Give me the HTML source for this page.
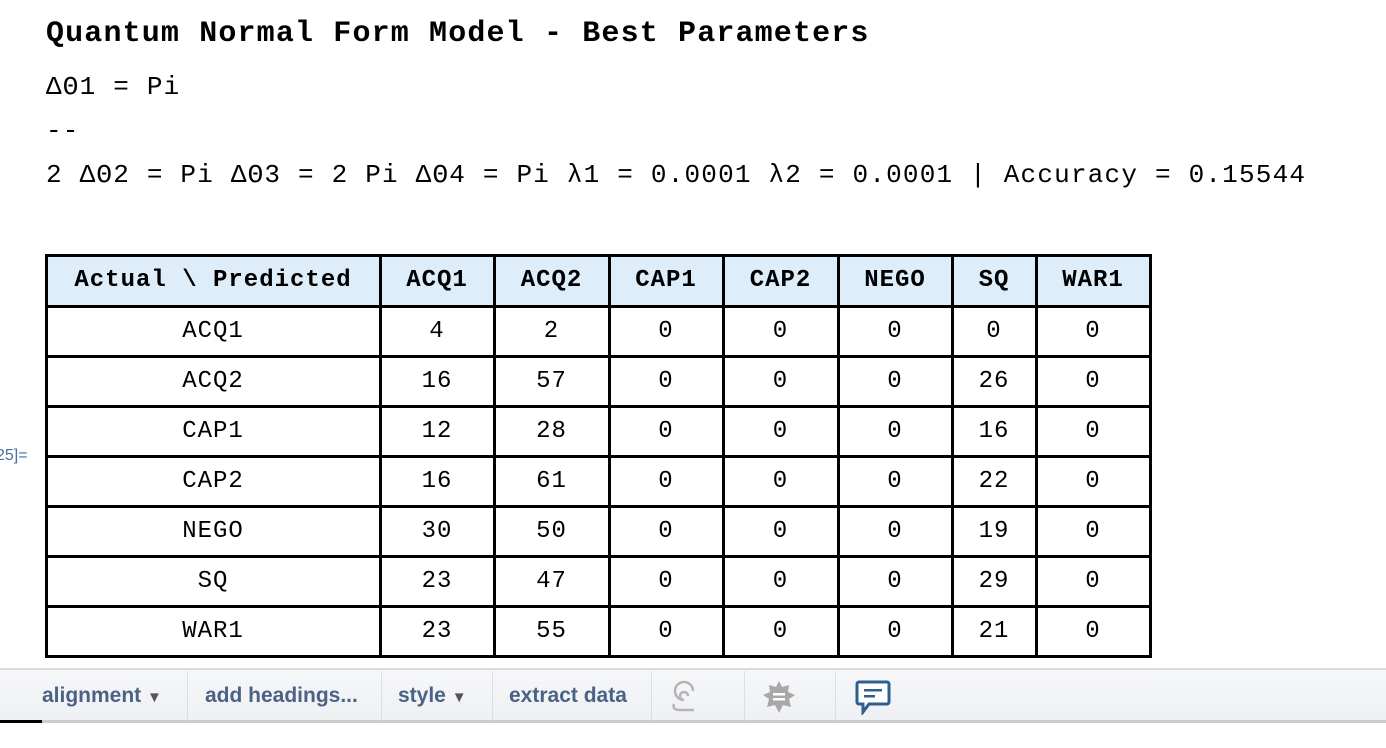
<!DOCTYPE html>
<html><head><meta charset="utf-8">
<style>
body{margin:0;width:1386px;height:748px;background:#fff;position:relative;overflow:hidden;font-family:"Liberation Mono","DejaVu Sans Mono",monospace;}
.t{position:absolute;white-space:pre;color:#000;line-height:1;}
.cell{position:absolute;box-sizing:border-box;display:flex;align-items:center;justify-content:center;font-size:24px;letter-spacing:1px;color:#000;}
.vl{position:absolute;background:#000;width:3px;}
.hl{position:absolute;background:#000;height:3px;}
.tb{position:absolute;font-family:"Liberation Sans",sans-serif;font-weight:bold;font-size:21px;color:#4a6284;top:684px;}
.sep{position:absolute;top:671px;width:1px;height:50px;background:#dcdee2;}
</style></head><body>
<div class="t" style="left:46px;top:19px;font-size:30px;letter-spacing:1.15px;font-weight:bold;">Quantum Normal Form Model - Best Parameters</div>
<div class="t" style="left:46px;top:74px;font-size:26px;letter-spacing:1.2px;">ΔΘ1 = Pi</div>
<div class="t" style="left:46px;top:118px;font-size:26px;letter-spacing:1.2px;">--</div>
<div class="t" style="left:46px;top:162px;font-size:26px;letter-spacing:1.2px;">2 ΔΘ2 = Pi ΔΘ3 = 2 Pi ΔΘ4 = Pi λ1 = 0.0001 λ2 = 0.0001 | Accuracy = 0.15544</div>
<div class="t" style="left:-4px;top:448px;font-family:'Liberation Sans',sans-serif;font-size:16px;color:#4a6f9c;">25]=</div>
<div id="tbl"></div>

<div style="position:absolute;left:0;top:668px;width:1386px;height:55px;background:linear-gradient(#f6f7f9,#eef0f3);border-top:2px solid #d8dadd;border-bottom:3px solid #c9cbce;box-sizing:border-box;"></div>
<div style="position:absolute;left:0;top:720px;width:42px;height:3px;background:#000;"></div>
<div class="sep" style="left:187px"></div><div class="sep" style="left:381px"></div><div class="sep" style="left:492px"></div><div class="sep" style="left:651px"></div><div class="sep" style="left:744px"></div><div class="sep" style="left:835px"></div>
<div class="tb" style="left:42px;">alignment <span style="font-size:15px;color:#555">▼</span></div>
<div class="tb" style="left:205px;">add headings...</div>
<div class="tb" style="left:398px;">style <span style="font-size:15px;color:#555">▼</span></div>
<div class="tb" style="left:509px;">extract data</div>
<svg style="position:absolute;left:668px;top:680px" width="36" height="34"><path d="M20 16 a4 4 0 1 0 -4 4 M16 20 a9 9 0 1 1 9 -9 M6 24 q-2 6 6 6 h14" fill="none" stroke="#b5b5b5" stroke-width="2.5"/></svg>
<svg style="position:absolute;left:762px;top:680px" width="34" height="34"><polygon points="17,1 20,7 27,5 26,12 33,15 27,19 29,27 21,25 17,33 13,25 5,27 7,19 1,15 8,12 7,5 14,7" fill="#a8a8a8"/><rect x="11" y="13" width="12" height="2.5" fill="#fff"/><rect x="11" y="18" width="12" height="2.5" fill="#fff"/></svg>
<svg style="position:absolute;left:855px;top:679px" width="36" height="36"><path d="M4 3 h28 a2 2 0 0 1 2 2 v18 a2 2 0 0 1 -2 2 h-18 l-6 8 v-8 h-4 a2 2 0 0 1 -2 -2 v-18 a2 2 0 0 1 2 -2z" fill="#fff" stroke="#2f5f8f" stroke-width="3"/><rect x="9" y="10" width="18" height="2.5" fill="#2f5f8f"/><rect x="9" y="16" width="11" height="2.5" fill="#2f5f8f"/></svg>

<script>
const predicted = ["ACQ1","ACQ2","CAP1","CAP2","NEGO","SQ","WAR1"];
const actual = ["ACQ1","ACQ2","CAP1","CAP2","NEGO","SQ","WAR1"];
const counts = [
 [4,2,0,0,0,0,0],
 [16,57,0,0,0,26,0],
 [12,28,0,0,0,16,0],
 [16,61,0,0,0,22,0],
 [30,50,0,0,0,19,0],
 [23,47,0,0,0,29,0],
 [23,55,0,0,0,21,0]
];
const tbl=document.getElementById('tbl');
const xs=[46,380,494,609,723,838,952,1036,1150];
const ys=[255,306,356,406,456,506,556,606,656];
function cell(x0,x1,y0,y1,txt,bold,bg,name){
  const d=document.createElement('div');
  d.className='cell';
  
  
  d.style.left=x0+'px';d.style.top=y0+'px';d.style.width=(x1-x0)+'px';d.style.height=(y1-y0)+'px';
  if(bold)d.style.fontWeight='bold';
  if(bg)d.style.background=bg;
  d.textContent=txt;
  tbl.appendChild(d);
}
cell(xs[0],xs[1],ys[0],ys[1],"Actual \\ Predicted",true,"#ddeefa","corner-header");
predicted.forEach((p,i)=>cell(xs[i+1],xs[i+2],ys[0],ys[1],p,true,"#ddeefa","column-header-"+p.toLowerCase()));
actual.forEach((a,r)=>{
  cell(xs[0],xs[1],ys[r+1],ys[r+2],a,false,null,"row-header-"+a.toLowerCase());
  counts[r].forEach((v,c)=>cell(xs[c+1],xs[c+2],ys[r+1],ys[r+2],String(v),false,null,"cell-"+a.toLowerCase()+"-"+predicted[c].toLowerCase()));
});
xs.forEach(x=>{const l=document.createElement('div');l.className='vl';


l.style.left=(x-1)+'px';l.style.top=(ys[0]-1)+'px';l.style.height=(ys[ys.length-1]-ys[0]+3)+'px';tbl.appendChild(l);});
ys.forEach(y=>{const l=document.createElement('div');l.className='hl';


l.style.top=(y-1)+'px';l.style.left=(xs[0]-1)+'px';l.style.width=(xs[xs.length-1]-xs[0]+3)+'px';tbl.appendChild(l);});
</script>
</body></html>
